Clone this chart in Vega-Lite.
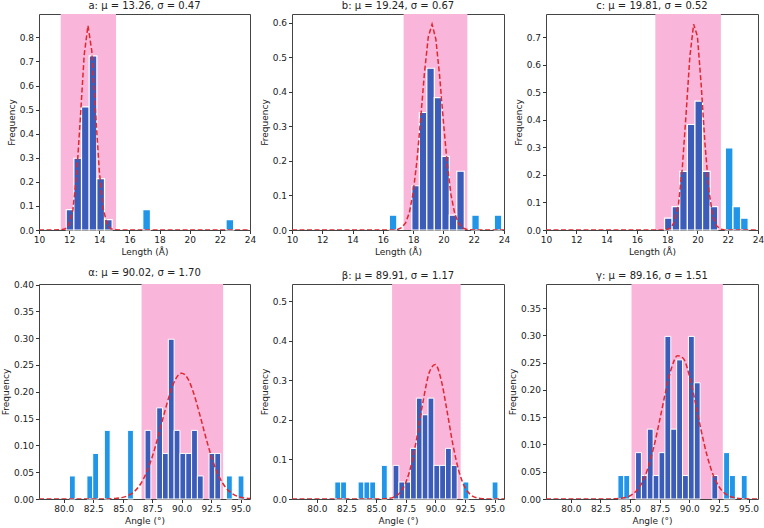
{
"$schema": "https://vega.github.io/schema/vega-lite/v6.json",
"padding": {"left": 0, "top": 0, "right": 0, "bottom": 2},
"background": "white",
"config": {
 "font": "DejaVu Sans",
 "view": {"stroke": "#444", "strokeWidth": 1},
 "scale": {"continuousPadding": 0},
 "axis": {"grid": false, "domain": false, "labelOverlap": false, "labelBound": false, "labelFlush": false, "tickColor": "#333", "tickSize": 3.5, "labelFont": "DejaVu Sans", "labelFontSize": 9, "labelColor": "#222", "titleFont": "DejaVu Sans", "titleFontSize": 9, "titleFontWeight": "normal", "titleColor": "#222", "labelPadding": 2, "titlePadding": 3},
 "title": {"font": "DejaVu Sans", "fontSize": 10, "fontWeight": "normal", "color": "#222", "offset": 3}
},
"datasets": {
 "bands": [
  {"p": "a", "x0": 11.44, "x1": 15.11},
  {"p": "b", "x0": 17.37, "x1": 21.58},
  {"p": "c", "x0": 17.22, "x1": 21.55},
  {"p": "al", "x0": 86.6, "x1": 93.52},
  {"p": "be", "x0": 86.35, "x1": 92.14},
  {"p": "ga", "x0": 85.12, "x1": 92.83}
 ],
 "bars": [
  {"p": "a", "x0": 11.806, "x1": 12.314, "f": 0.085, "g": "in"},
  {"p": "a", "x0": 12.314, "x1": 12.822, "f": 0.298, "g": "in"},
  {"p": "a", "x0": 12.822, "x1": 13.33, "f": 0.511, "g": "in"},
  {"p": "a", "x0": 13.33, "x1": 13.838, "f": 0.723, "g": "in"},
  {"p": "a", "x0": 13.838, "x1": 14.346, "f": 0.213, "g": "in"},
  {"p": "a", "x0": 14.346, "x1": 14.854, "f": 0.043, "g": "in"},
  {"p": "a", "x0": 16.886, "x1": 17.394, "f": 0.085, "g": "out"},
  {"p": "a", "x0": 22.41, "x1": 22.92, "f": 0.043, "g": "out"},

  {"p": "b", "x0": 16.428, "x1": 16.923, "f": 0.043, "g": "out"},
  {"p": "b", "x0": 17.913, "x1": 18.408, "f": 0.128, "g": "in"},
  {"p": "b", "x0": 18.408, "x1": 18.903, "f": 0.34, "g": "in"},
  {"p": "b", "x0": 18.903, "x1": 19.398, "f": 0.468, "g": "in"},
  {"p": "b", "x0": 19.398, "x1": 19.893, "f": 0.383, "g": "in"},
  {"p": "b", "x0": 19.893, "x1": 20.388, "f": 0.213, "g": "in"},
  {"p": "b", "x0": 20.388, "x1": 20.883, "f": 0.043, "g": "in"},
  {"p": "b", "x0": 20.883, "x1": 21.378, "f": 0.17, "g": "in"},
  {"p": "b", "x0": 21.873, "x1": 22.368, "f": 0.043, "g": "out"},
  {"p": "b", "x0": 23.358, "x1": 23.853, "f": 0.043, "g": "out"},

  {"p": "c", "x0": 17.829, "x1": 18.331, "f": 0.043, "g": "in"},
  {"p": "c", "x0": 18.331, "x1": 18.833, "f": 0.085, "g": "in"},
  {"p": "c", "x0": 18.833, "x1": 19.335, "f": 0.213, "g": "in"},
  {"p": "c", "x0": 19.335, "x1": 19.837, "f": 0.383, "g": "in"},
  {"p": "c", "x0": 19.837, "x1": 20.339, "f": 0.468, "g": "in"},
  {"p": "c", "x0": 20.339, "x1": 20.841, "f": 0.213, "g": "in"},
  {"p": "c", "x0": 20.841, "x1": 21.343, "f": 0.085, "g": "in"},
  {"p": "c", "x0": 21.845, "x1": 22.347, "f": 0.298, "g": "out"},
  {"p": "c", "x0": 22.347, "x1": 22.849, "f": 0.085, "g": "out"},
  {"p": "c", "x0": 22.849, "x1": 23.351, "f": 0.043, "g": "out"},

  {"p": "al", "x0": 80.483, "x1": 80.976, "f": 0.043, "g": "out"},
  {"p": "al", "x0": 81.963, "x1": 82.457, "f": 0.043, "g": "out"},
  {"p": "al", "x0": 82.457, "x1": 82.95, "f": 0.085, "g": "out"},
  {"p": "al", "x0": 83.443, "x1": 83.937, "f": 0.128, "g": "out"},
  {"p": "al", "x0": 85.417, "x1": 85.91, "f": 0.128, "g": "out"},
  {"p": "al", "x0": 86.897, "x1": 87.391, "f": 0.128, "g": "in"},
  {"p": "al", "x0": 87.884, "x1": 88.377, "f": 0.17, "g": "in"},
  {"p": "al", "x0": 88.377, "x1": 88.871, "f": 0.085, "g": "in"},
  {"p": "al", "x0": 88.871, "x1": 89.364, "f": 0.298, "g": "in"},
  {"p": "al", "x0": 89.364, "x1": 89.857, "f": 0.128, "g": "in"},
  {"p": "al", "x0": 89.857, "x1": 90.351, "f": 0.085, "g": "in"},
  {"p": "al", "x0": 90.351, "x1": 90.844, "f": 0.085, "g": "in"},
  {"p": "al", "x0": 90.844, "x1": 91.337, "f": 0.128, "g": "in"},
  {"p": "al", "x0": 91.337, "x1": 91.831, "f": 0.043, "g": "in"},
  {"p": "al", "x0": 92.325, "x1": 92.818, "f": 0.085, "g": "in"},
  {"p": "al", "x0": 92.818, "x1": 93.311, "f": 0.085, "g": "in"},
  {"p": "al", "x0": 93.805, "x1": 94.298, "f": 0.043, "g": "out"},
  {"p": "al", "x0": 94.792, "x1": 95.285, "f": 0.043, "g": "out"},

  {"p": "be", "x0": 81.514, "x1": 82.006, "f": 0.043, "g": "out"},
  {"p": "be", "x0": 82.006, "x1": 82.498, "f": 0.043, "g": "out"},
  {"p": "be", "x0": 83.482, "x1": 83.974, "f": 0.043, "g": "out"},
  {"p": "be", "x0": 83.974, "x1": 84.466, "f": 0.043, "g": "out"},
  {"p": "be", "x0": 84.466, "x1": 84.958, "f": 0.043, "g": "out"},
  {"p": "be", "x0": 85.45, "x1": 85.942, "f": 0.085, "g": "out"},
  {"p": "be", "x0": 86.434, "x1": 86.926, "f": 0.085, "g": "in"},
  {"p": "be", "x0": 86.926, "x1": 87.418, "f": 0.043, "g": "in"},
  {"p": "be", "x0": 87.418, "x1": 87.91, "f": 0.043, "g": "in"},
  {"p": "be", "x0": 87.91, "x1": 88.402, "f": 0.128, "g": "in"},
  {"p": "be", "x0": 88.402, "x1": 88.894, "f": 0.255, "g": "in"},
  {"p": "be", "x0": 88.894, "x1": 89.386, "f": 0.213, "g": "in"},
  {"p": "be", "x0": 89.386, "x1": 89.878, "f": 0.255, "g": "in"},
  {"p": "be", "x0": 89.878, "x1": 90.37, "f": 0.085, "g": "in"},
  {"p": "be", "x0": 90.37, "x1": 90.862, "f": 0.085, "g": "in"},
  {"p": "be", "x0": 90.862, "x1": 91.354, "f": 0.128, "g": "in"},
  {"p": "be", "x0": 91.354, "x1": 91.846, "f": 0.085, "g": "in"},
  {"p": "be", "x0": 92.338, "x1": 92.83, "f": 0.043, "g": "out"},
  {"p": "be", "x0": 94.798, "x1": 95.29, "f": 0.043, "g": "out"},

  {"p": "ga", "x0": 83.972, "x1": 84.468, "f": 0.043, "g": "out"},
  {"p": "ga", "x0": 84.468, "x1": 84.964, "f": 0.043, "g": "out"},
  {"p": "ga", "x0": 85.46, "x1": 85.956, "f": 0.085, "g": "in"},
  {"p": "ga", "x0": 85.956, "x1": 86.452, "f": 0.043, "g": "in"},
  {"p": "ga", "x0": 86.452, "x1": 86.948, "f": 0.128, "g": "in"},
  {"p": "ga", "x0": 86.948, "x1": 87.444, "f": 0.043, "g": "in"},
  {"p": "ga", "x0": 87.444, "x1": 87.94, "f": 0.085, "g": "in"},
  {"p": "ga", "x0": 87.94, "x1": 88.436, "f": 0.298, "g": "in"},
  {"p": "ga", "x0": 88.436, "x1": 88.932, "f": 0.128, "g": "in"},
  {"p": "ga", "x0": 88.932, "x1": 89.428, "f": 0.255, "g": "in"},
  {"p": "ga", "x0": 89.428, "x1": 89.924, "f": 0.043, "g": "in"},
  {"p": "ga", "x0": 89.924, "x1": 90.42, "f": 0.298, "g": "in"},
  {"p": "ga", "x0": 90.42, "x1": 90.916, "f": 0.213, "g": "in"},
  {"p": "ga", "x0": 91.908, "x1": 92.404, "f": 0.043, "g": "in"},
  {"p": "ga", "x0": 92.9, "x1": 93.396, "f": 0.085, "g": "out"},
  {"p": "ga", "x0": 93.396, "x1": 93.892, "f": 0.043, "g": "out"},
  {"p": "ga", "x0": 94.388, "x1": 94.884, "f": 0.043, "g": "out"}
 ],
 "curves": [
  {"p": "a", "x": 10, "y": 0}, {"p": "a", "x": 11, "y": 0}, {"p": "a", "x": 11.5, "y": 0.0008}, {"p": "a", "x": 11.75, "y": 0.0049},
  {"p": "a", "x": 12.0, "y": 0.0234}, {"p": "a", "x": 12.25, "y": 0.0844}, {"p": "a", "x": 12.5, "y": 0.2298}, {"p": "a", "x": 12.75, "y": 0.471},
  {"p": "a", "x": 13.0, "y": 0.728}, {"p": "a", "x": 13.25, "y": 0.849}, {"p": "a", "x": 13.5, "y": 0.745}, {"p": "a", "x": 13.75, "y": 0.493},
  {"p": "a", "x": 14.0, "y": 0.246}, {"p": "a", "x": 14.25, "y": 0.0924}, {"p": "a", "x": 14.5, "y": 0.0262}, {"p": "a", "x": 14.75, "y": 0.0056},
  {"p": "a", "x": 15.0, "y": 0.0009}, {"p": "a", "x": 15.5, "y": 0}, {"p": "a", "x": 24, "y": 0},

  {"p": "b", "x": 10, "y": 0}, {"p": "b", "x": 16.5, "y": 0}, {"p": "b", "x": 16.75, "y": 0.0006}, {"p": "b", "x": 17.0, "y": 0.0022},
  {"p": "b", "x": 17.25, "y": 0.0072}, {"p": "b", "x": 17.5, "y": 0.0204}, {"p": "b", "x": 17.75, "y": 0.0502}, {"p": "b", "x": 18.0, "y": 0.1074},
  {"p": "b", "x": 18.25, "y": 0.1998}, {"p": "b", "x": 18.5, "y": 0.3236}, {"p": "b", "x": 18.75, "y": 0.4558}, {"p": "b", "x": 19.0, "y": 0.5585},
  {"p": "b", "x": 19.25, "y": 0.5954}, {"p": "b", "x": 19.5, "y": 0.5523}, {"p": "b", "x": 19.75, "y": 0.4457}, {"p": "b", "x": 20.0, "y": 0.313},
  {"p": "b", "x": 20.25, "y": 0.1912}, {"p": "b", "x": 20.5, "y": 0.1016}, {"p": "b", "x": 20.75, "y": 0.047}, {"p": "b", "x": 21.0, "y": 0.0189},
  {"p": "b", "x": 21.25, "y": 0.0066}, {"p": "b", "x": 21.5, "y": 0.002}, {"p": "b", "x": 21.75, "y": 0.0005}, {"p": "b", "x": 22.0, "y": 0}, {"p": "b", "x": 24, "y": 0},

  {"p": "c", "x": 10, "y": 0}, {"p": "c", "x": 17.5, "y": 0}, {"p": "c", "x": 17.75, "y": 0.0003}, {"p": "c", "x": 18.0, "y": 0.0018},
  {"p": "c", "x": 18.25, "y": 0.0083}, {"p": "c", "x": 18.5, "y": 0.0315}, {"p": "c", "x": 18.75, "y": 0.0942}, {"p": "c", "x": 19.0, "y": 0.2235},
  {"p": "c", "x": 19.25, "y": 0.421}, {"p": "c", "x": 19.5, "y": 0.6294}, {"p": "c", "x": 19.75, "y": 0.7468}, {"p": "c", "x": 20.0, "y": 0.7033},
  {"p": "c", "x": 20.25, "y": 0.5256}, {"p": "c", "x": 20.5, "y": 0.3117}, {"p": "c", "x": 20.75, "y": 0.1467}, {"p": "c", "x": 21.0, "y": 0.0548},
  {"p": "c", "x": 21.25, "y": 0.0163}, {"p": "c", "x": 21.5, "y": 0.0038}, {"p": "c", "x": 21.75, "y": 0.0007}, {"p": "c", "x": 22.0, "y": 0}, {"p": "c", "x": 24, "y": 0},

  {"p": "al", "x": 77.9, "y": 0}, {"p": "al", "x": 83.5, "y": 0}, {"p": "al", "x": 84.0, "y": 0.0004}, {"p": "al", "x": 84.5, "y": 0.0012},
  {"p": "al", "x": 85.0, "y": 0.003}, {"p": "al", "x": 85.5, "y": 0.0068}, {"p": "al", "x": 86.0, "y": 0.0143}, {"p": "al", "x": 86.5, "y": 0.0275},
  {"p": "al", "x": 87.0, "y": 0.0484}, {"p": "al", "x": 87.5, "y": 0.0782}, {"p": "al", "x": 88.0, "y": 0.1158}, {"p": "al", "x": 88.5, "y": 0.1574},
  {"p": "al", "x": 89.0, "y": 0.196}, {"p": "al", "x": 89.5, "y": 0.224}, {"p": "al", "x": 90.0, "y": 0.2347}, {"p": "al", "x": 90.5, "y": 0.2255},
  {"p": "al", "x": 91.0, "y": 0.1988}, {"p": "al", "x": 91.5, "y": 0.1607}, {"p": "al", "x": 92.0, "y": 0.1191}, {"p": "al", "x": 92.5, "y": 0.081},
  {"p": "al", "x": 93.0, "y": 0.0505}, {"p": "al", "x": 93.5, "y": 0.0289}, {"p": "al", "x": 94.0, "y": 0.0151}, {"p": "al", "x": 94.5, "y": 0.0073},
  {"p": "al", "x": 95.0, "y": 0.0032}, {"p": "al", "x": 95.5, "y": 0.0013}, {"p": "al", "x": 95.8, "y": 0.0007},

  {"p": "be", "x": 77.9, "y": 0}, {"p": "be", "x": 85.0, "y": 0}, {"p": "be", "x": 85.5, "y": 0.0003}, {"p": "be", "x": 86.0, "y": 0.0013},
  {"p": "be", "x": 86.5, "y": 0.0049}, {"p": "be", "x": 87.0, "y": 0.0155}, {"p": "be", "x": 87.5, "y": 0.0409}, {"p": "be", "x": 88.0, "y": 0.09},
  {"p": "be", "x": 88.5, "y": 0.1649}, {"p": "be", "x": 89.0, "y": 0.252}, {"p": "be", "x": 89.5, "y": 0.3207}, {"p": "be", "x": 90.0, "y": 0.34},
  {"p": "be", "x": 90.5, "y": 0.3003}, {"p": "be", "x": 91.0, "y": 0.2209}, {"p": "be", "x": 91.5, "y": 0.1354}, {"p": "be", "x": 92.0, "y": 0.0692},
  {"p": "be", "x": 92.5, "y": 0.0294}, {"p": "be", "x": 93.0, "y": 0.0104}, {"p": "be", "x": 93.5, "y": 0.0031}, {"p": "be", "x": 94.0, "y": 0.0008},
  {"p": "be", "x": 94.5, "y": 0.0002}, {"p": "be", "x": 95.0, "y": 0}, {"p": "be", "x": 95.8, "y": 0},

  {"p": "ga", "x": 77.9, "y": 0}, {"p": "ga", "x": 83.0, "y": 0}, {"p": "ga", "x": 83.5, "y": 0.0002}, {"p": "ga", "x": 84.0, "y": 0.0008},
  {"p": "ga", "x": 84.5, "y": 0.0023}, {"p": "ga", "x": 85.0, "y": 0.0059}, {"p": "ga", "x": 85.5, "y": 0.014}, {"p": "ga", "x": 86.0, "y": 0.0296},
  {"p": "ga", "x": 86.5, "y": 0.056}, {"p": "ga", "x": 87.0, "y": 0.095}, {"p": "ga", "x": 87.5, "y": 0.1444}, {"p": "ga", "x": 88.0, "y": 0.1967},
  {"p": "ga", "x": 88.5, "y": 0.2401}, {"p": "ga", "x": 89.0, "y": 0.2627}, {"p": "ga", "x": 89.5, "y": 0.2576}, {"p": "ga", "x": 90.0, "y": 0.2263},
  {"p": "ga", "x": 90.5, "y": 0.1782}, {"p": "ga", "x": 91.0, "y": 0.1257}, {"p": "ga", "x": 91.5, "y": 0.0795}, {"p": "ga", "x": 92.0, "y": 0.045},
  {"p": "ga", "x": 92.5, "y": 0.0229}, {"p": "ga", "x": 93.0, "y": 0.0104}, {"p": "ga", "x": 93.5, "y": 0.0042}, {"p": "ga", "x": 94.0, "y": 0.0016},
  {"p": "ga", "x": 94.5, "y": 0.0005}, {"p": "ga", "x": 95.0, "y": 0.0001}, {"p": "ga", "x": 95.8, "y": 0}
 ]
},
"columns": 3,
"spacing": {"row": 54, "column": 42},
"bounds": "flush",
"concat": [
 {"width": 211, "height": 216, "title": "a: μ = 13.26, σ = 0.47",
  "encoding": {
   "x": {"type": "quantitative", "title": "Length (Å)", "scale": {"domain": [10, 24], "nice": false, "zero": false, "padding": 0}, "axis": {"values": [10, 12, 14, 16, 18, 20, 22, 24], "format": "d", "labelOverlap": false}},
   "y": {"type": "quantitative", "title": "Frequency", "scale": {"domain": [0, 0.897], "nice": false, "zero": true, "padding": 0}, "axis": {"values": [0, 0.1, 0.2, 0.3, 0.4, 0.5, 0.6, 0.7, 0.8], "format": ".1f", "labelOverlap": false}}
  },
  "layer": [
   {"data": {"name": "bands"}, "transform": [{"filter": "datum.p === 'a'"}], "mark": {"type": "rect", "color": "#f9b6da"},
    "encoding": {"x": {"field": "x0"}, "x2": {"field": "x1"}, "y": null}},
   {"data": {"name": "bars"}, "transform": [{"filter": "datum.p === 'a'"}], "mark": {"type": "bar", "stroke": "white", "strokeWidth": 1.2},
    "encoding": {"x": {"field": "x0"}, "x2": {"field": "x1"}, "y": {"field": "f"}, "y2": {"datum": 0},
     "color": {"field": "g", "type": "nominal", "scale": {"domain": ["in", "out"], "range": ["#3b5cb8", "#2196e8"]}, "legend": null}}},
   {"data": {"name": "curves"}, "transform": [{"filter": "datum.p === 'a'"}], "mark": {"type": "line", "color": "#e0282e", "strokeDash": [5, 2.5], "strokeWidth": 1.5, "clip": true},
    "encoding": {"x": {"field": "x"}, "y": {"field": "y"}}}
  ]},
 {"width": 212, "height": 216, "title": "b: μ = 19.24, σ = 0.67",
  "encoding": {
   "x": {"type": "quantitative", "title": "Length (Å)", "scale": {"domain": [10, 24], "nice": false, "zero": false, "padding": 0}, "axis": {"values": [10, 12, 14, 16, 18, 20, 22, 24], "format": "d", "labelOverlap": false}},
   "y": {"type": "quantitative", "title": "Frequency", "scale": {"domain": [0, 0.625], "nice": false, "zero": true, "padding": 0}, "axis": {"values": [0, 0.1, 0.2, 0.3, 0.4, 0.5, 0.6], "format": ".1f", "labelOverlap": false}}
  },
  "layer": [
   {"data": {"name": "bands"}, "transform": [{"filter": "datum.p === 'b'"}], "mark": {"type": "rect", "color": "#f9b6da"},
    "encoding": {"x": {"field": "x0"}, "x2": {"field": "x1"}, "y": null}},
   {"data": {"name": "bars"}, "transform": [{"filter": "datum.p === 'b'"}], "mark": {"type": "bar", "stroke": "white", "strokeWidth": 1.2},
    "encoding": {"x": {"field": "x0"}, "x2": {"field": "x1"}, "y": {"field": "f"}, "y2": {"datum": 0},
     "color": {"field": "g", "type": "nominal", "scale": {"domain": ["in", "out"], "range": ["#3b5cb8", "#2196e8"]}, "legend": null}}},
   {"data": {"name": "curves"}, "transform": [{"filter": "datum.p === 'b'"}], "mark": {"type": "line", "color": "#e0282e", "strokeDash": [5, 2.5], "strokeWidth": 1.5, "clip": true},
    "encoding": {"x": {"field": "x"}, "y": {"field": "y"}}}
  ]},
 {"width": 212, "height": 216, "title": "c: μ = 19.81, σ = 0.52",
  "encoding": {
   "x": {"type": "quantitative", "title": "Length (Å)", "scale": {"domain": [10, 24], "nice": false, "zero": false, "padding": 0}, "axis": {"values": [10, 12, 14, 16, 18, 20, 22, 24], "format": "d", "labelOverlap": false}},
   "y": {"type": "quantitative", "title": "Frequency", "scale": {"domain": [0, 0.784], "nice": false, "zero": true, "padding": 0}, "axis": {"values": [0, 0.1, 0.2, 0.3, 0.4, 0.5, 0.6, 0.7], "format": ".1f", "labelOverlap": false}}
  },
  "layer": [
   {"data": {"name": "bands"}, "transform": [{"filter": "datum.p === 'c'"}], "mark": {"type": "rect", "color": "#f9b6da"},
    "encoding": {"x": {"field": "x0"}, "x2": {"field": "x1"}, "y": null}},
   {"data": {"name": "bars"}, "transform": [{"filter": "datum.p === 'c'"}], "mark": {"type": "bar", "stroke": "white", "strokeWidth": 1.2},
    "encoding": {"x": {"field": "x0"}, "x2": {"field": "x1"}, "y": {"field": "f"}, "y2": {"datum": 0},
     "color": {"field": "g", "type": "nominal", "scale": {"domain": ["in", "out"], "range": ["#3b5cb8", "#2196e8"]}, "legend": null}}},
   {"data": {"name": "curves"}, "transform": [{"filter": "datum.p === 'c'"}], "mark": {"type": "line", "color": "#e0282e", "strokeDash": [5, 2.5], "strokeWidth": 1.5, "clip": true},
    "encoding": {"x": {"field": "x"}, "y": {"field": "y"}}}
  ]},
 {"width": 211, "height": 215, "title": "α: μ = 90.02, σ = 1.70",
  "encoding": {
   "x": {"type": "quantitative", "title": "Angle (°)", "scale": {"domain": [77.9, 95.8], "nice": false, "zero": false, "padding": 0}, "axis": {"values": [80, 82.5, 85, 87.5, 90, 92.5, 95], "format": ".1f", "labelOverlap": false}},
   "y": {"type": "quantitative", "title": "Frequency", "scale": {"domain": [0, 0.401], "nice": false, "zero": true, "padding": 0}, "axis": {"values": [0, 0.05, 0.1, 0.15, 0.2, 0.25, 0.3, 0.35, 0.4], "format": ".2f", "labelOverlap": false}}
  },
  "layer": [
   {"data": {"name": "bands"}, "transform": [{"filter": "datum.p === 'al'"}], "mark": {"type": "rect", "color": "#f9b6da"},
    "encoding": {"x": {"field": "x0"}, "x2": {"field": "x1"}, "y": null}},
   {"data": {"name": "bars"}, "transform": [{"filter": "datum.p === 'al'"}], "mark": {"type": "bar", "stroke": "white", "strokeWidth": 1},
    "encoding": {"x": {"field": "x0"}, "x2": {"field": "x1"}, "y": {"field": "f"}, "y2": {"datum": 0},
     "color": {"field": "g", "type": "nominal", "scale": {"domain": ["in", "out"], "range": ["#3b5cb8", "#2196e8"]}, "legend": null}}},
   {"data": {"name": "curves"}, "transform": [{"filter": "datum.p === 'al'"}], "mark": {"type": "line", "color": "#e0282e", "strokeDash": [5, 2.5], "strokeWidth": 1.5, "clip": true, "interpolate": "monotone"},
    "encoding": {"x": {"field": "x"}, "y": {"field": "y"}}}
  ]},
 {"width": 212, "height": 215, "title": "β: μ = 89.91, σ = 1.17",
  "encoding": {
   "x": {"type": "quantitative", "title": "Angle (°)", "scale": {"domain": [77.9, 95.8], "nice": false, "zero": false, "padding": 0}, "axis": {"values": [80, 82.5, 85, 87.5, 90, 92.5, 95], "format": ".1f", "labelOverlap": false}},
   "y": {"type": "quantitative", "title": "Frequency", "scale": {"domain": [0, 0.5435], "nice": false, "zero": true, "padding": 0}, "axis": {"values": [0, 0.1, 0.2, 0.3, 0.4, 0.5], "format": ".1f", "labelOverlap": false}}
  },
  "layer": [
   {"data": {"name": "bands"}, "transform": [{"filter": "datum.p === 'be'"}], "mark": {"type": "rect", "color": "#f9b6da"},
    "encoding": {"x": {"field": "x0"}, "x2": {"field": "x1"}, "y": null}},
   {"data": {"name": "bars"}, "transform": [{"filter": "datum.p === 'be'"}], "mark": {"type": "bar", "stroke": "white", "strokeWidth": 1},
    "encoding": {"x": {"field": "x0"}, "x2": {"field": "x1"}, "y": {"field": "f"}, "y2": {"datum": 0},
     "color": {"field": "g", "type": "nominal", "scale": {"domain": ["in", "out"], "range": ["#3b5cb8", "#2196e8"]}, "legend": null}}},
   {"data": {"name": "curves"}, "transform": [{"filter": "datum.p === 'be'"}], "mark": {"type": "line", "color": "#e0282e", "strokeDash": [5, 2.5], "strokeWidth": 1.5, "clip": true, "interpolate": "monotone"},
    "encoding": {"x": {"field": "x"}, "y": {"field": "y"}}}
  ]},
 {"width": 212, "height": 215, "title": "γ: μ = 89.16, σ = 1.51",
  "encoding": {
   "x": {"type": "quantitative", "title": "Angle (°)", "scale": {"domain": [77.9, 95.8], "nice": false, "zero": false, "padding": 0}, "axis": {"values": [80, 82.5, 85, 87.5, 90, 92.5, 95], "format": ".1f", "labelOverlap": false}},
   "y": {"type": "quantitative", "title": "Frequency", "scale": {"domain": [0, 0.394], "nice": false, "zero": true, "padding": 0}, "axis": {"values": [0, 0.05, 0.1, 0.15, 0.2, 0.25, 0.3, 0.35], "format": ".2f", "labelOverlap": false}}
  },
  "layer": [
   {"data": {"name": "bands"}, "transform": [{"filter": "datum.p === 'ga'"}], "mark": {"type": "rect", "color": "#f9b6da"},
    "encoding": {"x": {"field": "x0"}, "x2": {"field": "x1"}, "y": null}},
   {"data": {"name": "bars"}, "transform": [{"filter": "datum.p === 'ga'"}], "mark": {"type": "bar", "stroke": "white", "strokeWidth": 1},
    "encoding": {"x": {"field": "x0"}, "x2": {"field": "x1"}, "y": {"field": "f"}, "y2": {"datum": 0},
     "color": {"field": "g", "type": "nominal", "scale": {"domain": ["in", "out"], "range": ["#3b5cb8", "#2196e8"]}, "legend": null}}},
   {"data": {"name": "curves"}, "transform": [{"filter": "datum.p === 'ga'"}], "mark": {"type": "line", "color": "#e0282e", "strokeDash": [5, 2.5], "strokeWidth": 1.5, "clip": true, "interpolate": "monotone"},
    "encoding": {"x": {"field": "x"}, "y": {"field": "y"}}}
  ]}
]
}
